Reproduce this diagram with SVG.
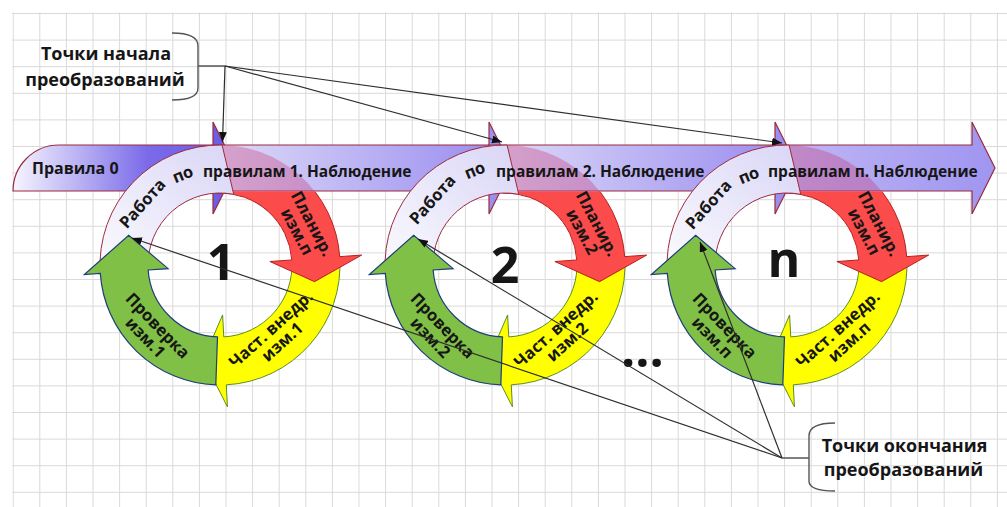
<svg xmlns="http://www.w3.org/2000/svg" xmlns:xlink="http://www.w3.org/1999/xlink" width="1007" height="507" viewBox="0 0 1007 507">
  <style>
    .t{font-family:"Open Sans","Liberation Sans",sans-serif;font-weight:700;fill:#161616}
    .band{stroke:#9c2b3f;stroke-width:1.2}
    .conn{stroke:#2e2e2e;stroke-width:1.2;fill:none}
    .br{stroke:#555;stroke-width:1.4;fill:none}
    .red{fill:#fb4b4b;stroke:#b52020;stroke-width:1}
    .tint{fill:#c82a6a;fill-opacity:0.32;stroke:none}
    .yel{fill:#ffff00;stroke:#5b8f23;stroke-width:1}
    .grn{fill:#80c046;stroke:#1f3d7a;stroke-width:1.2}
    .wht{fill:url(#gWhite);stroke:#9c2b3f;stroke-width:1}
    .rt{font-size:16.5px}
    .bt{font-size:15.5px}
    .num{font-size:50px;text-anchor:middle}
  </style>
  <defs>
    <pattern id="grid" x="12.7" y="13" width="26.6" height="26.6" patternUnits="userSpaceOnUse">
      <path d="M0.5 0V26.6M0 0.5H26.6" stroke="#d9d9d9" stroke-width="1" fill="none"/>
    </pattern>
    <linearGradient id="gSeg0" x1="0" y1="0" x2="1" y2="0">
      <stop offset="0" stop-color="#f6f5fe"/>
      <stop offset="0.6" stop-color="#7b6be9"/>
      <stop offset="1" stop-color="#6a59e4"/>
    </linearGradient>
    <linearGradient id="gSeg" x1="0" y1="0" x2="1" y2="0">
      <stop offset="0" stop-color="#e0dcf9"/>
      <stop offset="1" stop-color="#9689ee"/>
    </linearGradient>
    <linearGradient id="gSegLast" x1="0" y1="0" x2="1" y2="0">
      <stop offset="0" stop-color="#c0b8f5"/>
      <stop offset="1" stop-color="#a095f0"/>
    </linearGradient>
    <linearGradient id="gWhite" x1="0" y1="1" x2="1" y2="0">
      <stop offset="0" stop-color="#fbfbfe"/>
      <stop offset="1" stop-color="#d9d5f6"/>
    </linearGradient>
    <marker id="ah" viewBox="0 0 10 8" refX="10" refY="4" markerWidth="10" markerHeight="8" markerUnits="userSpaceOnUse" orient="auto">
      <path d="M0,0L10,4L0,8z" fill="#111"/>
    </marker>
    <!-- clip regions in cycle-local coordinates (cycle centres sit at y=265) -->
    <clipPath id="offBand"><rect x="-200" y="-73.4" width="400" height="300"/></clipPath>
    <clipPath id="onBand"><rect x="-200" y="-120" width="400" height="46.6"/></clipPath>
    <!-- cycle arcs, centred on (0,0): outer r 120, inner r 72 -->
    <path id="arcRed" d="M-4.19,-119.93A120,120 0 0 1 119.71,-8.37L141.65,-9.91L94.54,16.67L49.88,-3.49L71.83,-5.02A72,72 0 0 0 -2.51,-71.96Z"/>
    <path id="arcYellow" d="M119.71,-8.37A120,120 0 0 1 6.28,119.84L7.43,141.81L-16.67,94.54L2.62,49.93L3.77,71.9A72,72 0 0 0 71.83,-5.02Z"/>
    <path id="arcGreen" d="M-4.19,119.93A120,120 0 0 1 -119.71,8.37L-135.67,9.49L-91.3,-29.66L-51.87,3.63L-71.83,5.02A72,72 0 0 0 -2.51,71.96Z"/>
    <path id="arcWhite" d="M-119.71,8.37A120,120 0 0 1 2.09,-119.98L13.74,-70.68A72,72 0 0 0 -71.83,5.02Z"/>
  </defs>

  <rect width="1007" height="507" fill="#fff"/>
  <rect x="12.2" y="12.5" width="995" height="495" fill="url(#grid)"/>

  <!-- main timeline band -->
  <g id="band">
    <path id="seg-0" class="band" fill="url(#gSeg0)" d="M13,191A46,46 0 0 1 59,145H213V122L236,168L213,214V191Z"/>
    <path id="seg-1" class="band" fill="url(#gSeg)" d="M213,145H489V122L512,168L489,214V191H213Z"/>
    <path id="seg-2" class="band" fill="url(#gSeg)" d="M489,145H775V122L798,168L775,214V191H489Z"/>
    <path id="seg-3" class="band" fill="url(#gSegLast)" d="M775,145H972V122L995,168L972,214V191H775Z"/>
    <text class="t" x="32" y="174" font-size="16">Правила 0</text>
  </g>

  <!-- cycle 1 -->
  <g id="cycle-1" transform="translate(220,265)">
    <use xlink:href="#arcYellow" class="yel"/>
    <use xlink:href="#arcRed" class="red" clip-path="url(#offBand)"/>
    <use xlink:href="#arcRed" class="tint" clip-path="url(#onBand)"/>
    <use xlink:href="#arcWhite" class="wht"/>
    <use xlink:href="#arcGreen" class="grn"/>
    <text class="t rt" text-anchor="middle" transform="translate(-77,-61) rotate(-48)" y="5">Работа</text>
    <text class="t rt" text-anchor="middle" transform="translate(-37,-90) rotate(-22)" y="5">по</text>
    <text class="t bt" x="-17" y="-88">правилам 1. Наблюдение</text>
    <g class="t rt" text-anchor="middle" transform="translate(84,-37) rotate(62)">
      <text y="-3.5">Планир.</text><text y="13.5">изм.п</text>
    </g>
    <g class="t rt" text-anchor="middle" transform="translate(57,71) rotate(-42)">
      <text y="-3.5">Част. внедр.</text><text y="13.5">изм.1</text>
    </g>
    <g class="t rt" text-anchor="middle" transform="translate(-69,67) rotate(46)">
      <text y="-3.5">Проверка</text><text y="13.5">изм.1</text>
    </g>
    <text class="t num" x="1" y="15">1</text>
  </g>

  <!-- cycle 2 -->
  <g id="cycle-2" transform="translate(505,265)">
    <use xlink:href="#arcYellow" class="yel"/>
    <use xlink:href="#arcRed" class="red" clip-path="url(#offBand)"/>
    <use xlink:href="#arcRed" class="tint" clip-path="url(#onBand)"/>
    <use xlink:href="#arcWhite" class="wht"/>
    <use xlink:href="#arcGreen" class="grn"/>
    <text class="t rt" text-anchor="middle" transform="translate(-72,-65) rotate(-48)" y="5">Работа</text>
    <text class="t rt" text-anchor="middle" transform="translate(-30,-94) rotate(-22)" y="5">по</text>
    <text class="t bt" x="-9" y="-88">правилам 2. Наблюдение</text>
    <g class="t rt" text-anchor="middle" transform="translate(84,-37) rotate(62)">
      <text y="-3.5">Планир.</text><text y="13.5">изм.2</text>
    </g>
    <g class="t rt" text-anchor="middle" transform="translate(57,71) rotate(-42)">
      <text y="-3.5">Част. внедр.</text><text y="13.5">изм.2</text>
    </g>
    <g class="t rt" text-anchor="middle" transform="translate(-69,67) rotate(46)">
      <text y="-3.5">Проверка</text><text y="13.5">изм.2</text>
    </g>
    <text class="t num" x="0" y="18">2</text>
  </g>

  <!-- cycle n -->
  <g id="cycle-n" transform="translate(787,265)">
    <use xlink:href="#arcYellow" class="yel"/>
    <use xlink:href="#arcRed" class="red" clip-path="url(#offBand)"/>
    <use xlink:href="#arcRed" class="tint" clip-path="url(#onBand)"/>
    <use xlink:href="#arcWhite" class="wht"/>
    <use xlink:href="#arcGreen" class="grn"/>
    <text class="t rt" text-anchor="middle" transform="translate(-78,-60) rotate(-48)" y="5">Работа</text>
    <text class="t rt" text-anchor="middle" transform="translate(-38,-89) rotate(-22)" y="5">по</text>
    <text class="t bt" x="-19" y="-88">правилам п. Наблюдение</text>
    <g class="t rt" text-anchor="middle" transform="translate(84,-37) rotate(62)">
      <text y="-3.5">Планир.</text><text y="13.5">изм.п</text>
    </g>
    <g class="t rt" text-anchor="middle" transform="translate(57,71) rotate(-42)">
      <text y="-3.5">Част. внедр.</text><text y="13.5">изм.п</text>
    </g>
    <g class="t rt" text-anchor="middle" transform="translate(-69,67) rotate(46)">
      <text y="-3.5">Проверка</text><text y="13.5">изм.п</text>
    </g>
    <text class="t num" x="-3" y="12">n</text>
  </g>

  <text id="ellipsis" class="t" x="621" y="367" font-size="50">...</text>

  <!-- start-point callout -->
  <g id="label-start">
    <path class="br" d="M172,33C188,33 198,37 198,46V88C198,96 188,100 172,100M198,66H225"/>
    <text class="t" x="106" y="60" font-size="18" text-anchor="middle">Точки начала</text>
    <text class="t" x="105" y="86" font-size="18" text-anchor="middle">преобразований</text>
  </g>

  <!-- end-point callout -->
  <g id="label-end">
    <path class="br" d="M835,423C819,423 809,427 809,436V481C809,488 819,491 835,491M809,458H782"/>
    <text class="t" x="904.5" y="452" font-size="18" text-anchor="middle">Точки окончания</text>
    <text class="t" x="903.5" y="476" font-size="18" text-anchor="middle">преобразований</text>
  </g>

  <!-- pointers -->
  <g id="connectors">
    <path class="conn" marker-end="url(#ah)" d="M225,66L222.5,142"/>
    <path class="conn" marker-end="url(#ah)" d="M225,66L502,142"/>
    <path class="conn" marker-end="url(#ah)" d="M225,66L782,143"/>
    <path class="conn" marker-end="url(#ah)" d="M782,458L132,238"/>
    <path class="conn" marker-end="url(#ah)" d="M782,458L418,239"/>
    <path class="conn" marker-end="url(#ah)" d="M782,458L700,242"/>
  </g>
</svg>
